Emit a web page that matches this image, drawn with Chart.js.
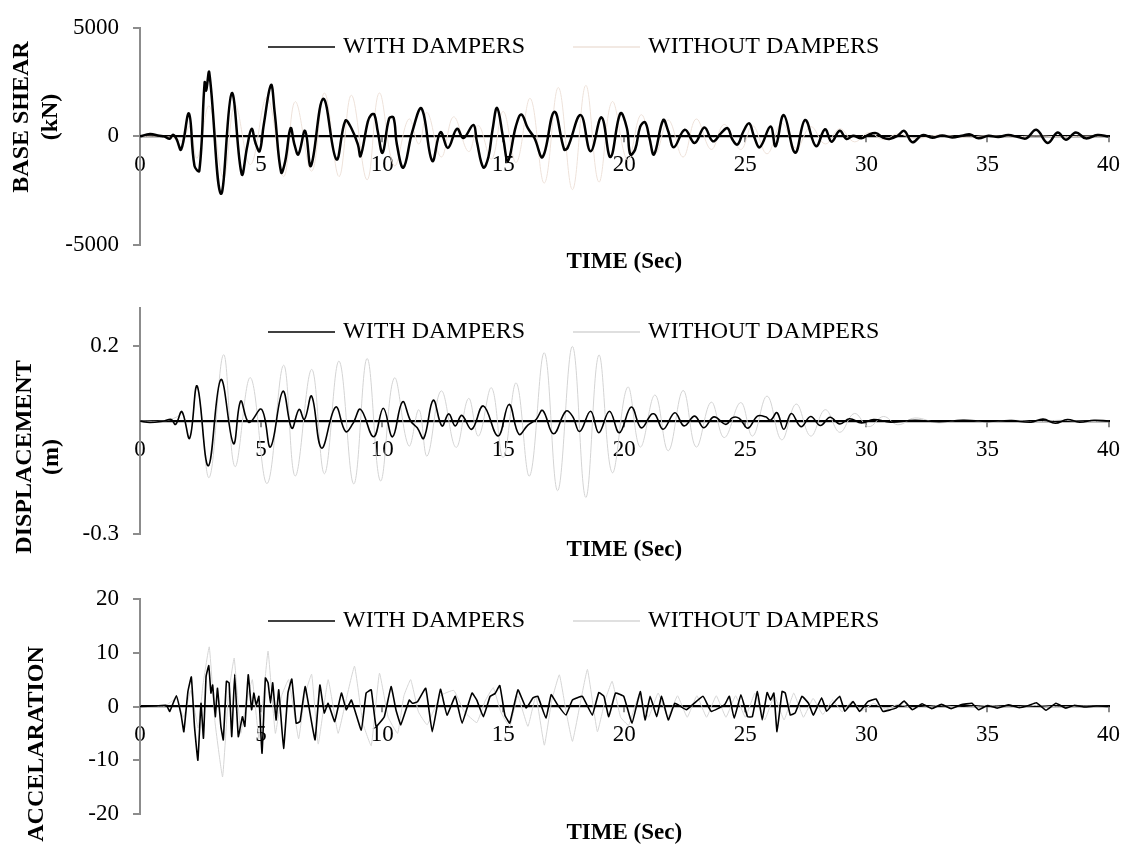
<!DOCTYPE html>
<html><head><meta charset="utf-8">
<script src="https://cdn.jsdelivr.net/npm/chart.js@4.4.1/dist/chart.umd.min.js"></script>
<style>
html,body{margin:0;padding:0;background:#fff;width:1130px;height:845px;overflow:hidden}
.p{position:absolute;left:0;width:1130px}
canvas{display:block}
</style></head><body>
<div class="p" style="top:0;height:280px"><canvas id="c1" width="1130" height="280"></canvas></div>
<div class="p" style="top:280px;height:285px"><canvas id="c2" width="1130" height="285"></canvas></div>
<div class="p" style="top:565px;height:280px"><canvas id="c3" width="1130" height="280"></canvas></div>
<script>
// ---------- data ----------
const legendLabels = ['WITH DAMPERS', 'WITHOUT DAMPERS'];
const timeTitle = 'TIME (Sec)';
const timeTicks = [0, 5, 10, 15, 20, 25, 30, 35, 40];
const shearTicks = [-5000, 0, 5000];
const dispTicks = [-0.3, 0.2];
const accTicks = [-20, -10, 0, 10, 20];
const shearTitle = ['BASE SHEAR', '(kN)'];
const dispTitle = ['DISPLACEMENT', '(m)'];
const accTitle = ['ACCELARATION'];

const shearWithT = [0,0.41,0.8,1.0,1.23,1.36,1.5,1.70,2.02,2.25,
 2.45,2.67,2.73,2.86,3.34,3.79,4.20,4.43,4.61,4.77,
 4.94,5.11,5.41,5.56,5.83,6.0,6.22,6.38,6.54,6.82,
 7.06,7.57,8.11,8.48,8.73,9.0,9.11,9.41,9.54,9.68,
 9.82,10.02,10.29,10.47,10.61,10.88,11.25,11.63,12.07,12.41,
 12.72,13.09,13.36,13.77,13.91,14.18,14.39,14.56,14.75,15.0,
 15.2,15.52,15.75,16.02,16.29,16.63,17.11,17.52,17.66,18.2,
 18.61,19.06,19.43,19.84,20.11,20.25,20.45,20.66,20.86,21.04,
 21.23,21.61,21.82,22.05,22.5,22.91,23.31,23.66,24.0,24.27,
 24.47,24.68,24.92,25.16,25.36,25.6,26.04,26.25,26.59,27.06,
 27.47,27.92,28.29,28.56,28.9,29.18,29.45,29.79,30.06,30.4,
 30.68,30.95,31.29,31.56,31.9,32.31,32.72,33.13,33.54,33.95,
 34.29,34.63,35.04,35.45,35.86,36.27,36.61,37.02,37.49,37.9,
 38.24,38.65,39.06,39.54,40];
const shearWith = [0,106,30,0,-106,75,-100,-603,1056,-1357,
 -1583,2488,2111,2941,-2639,1991,-1734,-452,347,-302,
 -679,528,2368,1131,-1659,-1131,377,-377,-829,256,
 -1357,1734,-1056,724,377,-377,-905,679,980,1010,
 226,-754,829,860,-377,-1433,226,1282,-1131,196,
 -528,350,-75,528,-226,-1433,-950,302,1312,-75,
 -1131,452,1010,377,-75,-950,1131,-603,-528,980,
 -679,875,-950,1056,377,-829,-603,452,648,-75,
 -829,754,226,-498,302,-302,407,-226,151,377,
 -151,-377,226,603,0,-498,452,-452,980,-754,
 754,-453,332,-241,256,-121,30,-90,60,151,
 -60,-121,30,256,-271,60,-60,45,-45,30,
 90,-90,30,-30,60,-30,-90,302,-302,181,
 -151,181,-90,60,0];

const shearWithoutT = [0,1.0,1.5,1.75,2.05,2.36,2.86,3.45,3.92,4.56,
 5.25,5.93,6.41,7.09,7.62,8.22,8.73,9.38,9.88,10.5,
 11.1,11.52,11.86,12.44,12.95,13.57,13.98,14.52,15.0,15.54,
 16.12,16.7,17.28,17.86,18.41,18.95,19.5,20.14,20.7,21.27,
 21.82,22.43,22.97,23.59,24.13,24.81,25.3,25.9,26.5,27.1,
 27.7,28.3,28.9,29.5,30.1,30.7,31.3,32,33,34,
 35,36,37,38,39,40];
const shearWithout = [0,0,-100,-200,450,-1000,1400,-1900,1450,-1300,
 1800,-1850,1600,-1600,2000,-1850,1900,-2000,2000,-1350,
 800,-350,1100,-950,900,-700,500,-1050,1150,-1200,
 1750,-2150,2250,-2450,2350,-2100,1600,-1100,1000,-800,
 750,-950,800,-600,550,-600,500,-800,600,-550,
 450,-350,350,-250,180,-150,120,-100,60,-40,
 30,-20,20,-15,10,0];

const dispWithT = [0,0.41,1.0,1.29,1.47,1.73,2.05,2.36,2.82,3.34,
 3.86,4.16,4.5,5.02,5.39,5.9,6.27,6.57,6.79,7.09,
 7.5,8.08,8.49,8.79,9.11,9.65,10.05,10.43,10.84,11.18,
 11.45,11.72,12.11,12.47,12.75,13.02,13.29,13.7,14.18,14.79,
 15.24,15.65,16.02,16.36,16.63,17.08,17.59,17.86,18.16,18.61,
 18.95,19.39,19.8,20.29,20.7,21.13,21.29,21.61,22.09,22.47,
 22.91,23.29,23.7,24.2,24.47,24.75,25.11,25.5,25.84,26.04,
 26.31,26.59,26.9,27.3,27.7,28.1,28.5,28.9,29.3,29.8,
 30.3,31,32,33,34,35,36,36.8,37.3,37.8,
 38.3,38.8,39.4,40];
const dispWith = [0,-0.004,0,0.004,-0.009,0.025,-0.046,0.093,-0.119,0.110,
 -0.060,0.053,-0.004,0.031,-0.069,0.079,-0.019,0.031,0.004,0.066,
 -0.072,0.037,-0.028,-0.007,0.031,-0.042,0.034,-0.042,0.051,0,
 -0.018,-0.046,0.055,-0.013,0.019,-0.013,0.015,-0.022,0.040,-0.040,
 0.044,-0.035,-0.011,0.004,0.028,-0.034,0.026,0.013,-0.028,0.026,
 -0.031,0.026,-0.031,0.037,-0.018,0.018,0.016,-0.022,0.022,-0.013,
 0.013,-0.018,0.011,-0.009,0.009,0.007,-0.019,0.013,0.011,0.002,
 0.022,-0.022,0.02,-0.015,0.012,-0.012,0.01,-0.008,0.006,-0.005,
 0.004,-0.003,0.002,-0.002,0.002,-0.001,0.001,-0.003,0.005,-0.006,
 0.004,-0.003,0.002,0];

const dispWithoutT = [0,1.0,1.5,1.75,2.05,2.36,2.86,3.45,3.92,4.56,
 5.25,5.93,6.41,7.09,7.62,8.22,8.83,9.38,9.93,10.5,
 11.1,11.52,11.86,12.44,13.05,13.57,13.98,14.52,15.0,15.54,
 16.09,16.7,17.25,17.86,18.41,18.95,19.5,20.14,20.66,21.27,
 21.82,22.43,22.97,23.59,24.13,24.81,25.3,25.9,26.5,27.1,
 27.7,28.3,28.9,29.5,30.1,30.7,31.3,32,33,34,
 35,36,37,38,39,40];
const dispWithout = [0,0,0.01,0.02,-0.04,0.09,-0.150,0.176,-0.121,0.115,
 -0.166,0.148,-0.146,0.137,-0.14,0.159,-0.167,0.166,-0.159,0.114,
 -0.066,0.03,-0.093,0.080,-0.07,0.06,-0.040,0.088,-0.097,0.101,
 -0.146,0.181,-0.185,0.198,-0.203,0.175,-0.137,0.090,-0.069,0.069,
 -0.079,0.081,-0.069,0.050,-0.044,0.049,-0.040,0.066,-0.05,0.045,
 -0.04,0.03,-0.03,0.02,-0.015,0.012,-0.01,0.008,-0.005,0.004,
 -0.003,0.002,-0.002,0.002,-0.001,0];

const accWithT = [0,0.68,1.09,1.23,1.5,1.7,1.81,1.98,2.12,2.25,
 2.39,2.52,2.62,2.73,2.84,2.93,3.0,3.11,3.2,3.34,
 3.44,3.57,3.68,3.79,3.91,4.06,4.23,4.33,4.47,4.61,
 4.7,4.8,4.91,5.04,5.18,5.29,5.39,5.48,5.62,5.73,
 5.93,6.11,6.27,6.45,6.61,6.82,7.02,7.23,7.43,7.61,
 7.77,8.04,8.32,8.52,8.73,9.14,9.34,9.55,9.75,10.09,
 10.37,10.57,10.77,11.12,11.25,11.46,11.8,12.07,12.41,12.68,
 13.02,13.3,13.71,13.91,14.18,14.46,14.66,14.86,15.07,15.27,
 15.61,15.95,16.23,16.43,16.77,16.98,17.25,17.59,17.86,18.27,
 18.68,18.95,19.16,19.36,19.64,19.98,20.32,20.66,20.86,21.07,
 21.34,21.54,21.82,22.09,22.57,23.25,23.59,24.14,24.34,24.54,
 24.82,25.09,25.29,25.5,25.7,25.9,26.04,26.18,26.31,26.52,
 26.65,26.86,27.06,27.34,27.61,27.81,28.15,28.36,28.63,28.9,
 29.11,29.45,29.72,30.06,30.4,30.68,31.22,31.56,31.9,32.3,
 32.7,33.1,33.5,33.9,34.36,34.63,35.0,35.4,35.86,36.3,
 36.7,37.02,37.42,37.83,38.24,38.58,39.0,39.5,40];
const accWith = [0,0.1,0.2,-0.9,2.0,-1.6,-4.7,2.8,5.5,-3.7,
 -10.0,0.6,-5.9,5.6,7.6,2.5,4.0,-1.9,3.4,-3.7,
 -6.2,4.7,4.4,-5.6,6.0,-5.6,-1.9,-3.7,5.9,-0.6,
 2.5,0.3,1.9,-8.7,5.3,4.4,0.6,4.4,-2.5,3.1,
 -7.8,2.5,5.1,-3.1,-2.8,3.7,-1.2,-6.2,4.0,-1.2,
 0.6,-2.8,2.5,-0.6,1.2,-4.4,2.5,3.1,-3.7,-1.9,
 3.7,-0.6,-3.4,1.2,0.6,0.9,3.4,-4.7,3.2,-1.6,
 1.9,-3.1,2.5,1.2,-1.9,1.9,2.4,3.9,-1.6,-3.1,
 3.1,-0.3,1.6,1.9,-2.2,2.2,0.3,-1.6,1.2,1.9,
 -1.6,2.6,1.9,-1.9,2.5,1.9,-3.1,2.8,-2.5,1.9,
 -1.9,1.9,-2.5,0.6,-0.6,1.9,-0.9,0.3,1.9,-2.2,
 2.2,-1.9,-1.9,2.8,-2.5,2.6,1.2,2.5,-4.7,2.8,
 2.5,-1.6,-1.2,1.9,0.6,-1.6,1.6,-0.9,0.6,1.9,
 -0.9,0.9,-0.9,0.9,1.4,-0.9,-0.3,1.0,-0.6,0.5,
 -0.4,0.4,-0.4,0.3,0.6,-0.6,0.2,-0.3,0.3,-0.2,
 0.2,0.7,-0.7,0.6,-0.3,0.2,-0.1,0.1,0];

const accWithoutT = [0,1.0,1.5,1.8,2.1,2.4,2.6,2.86,3.1,3.41,
 3.65,3.89,4.16,4.4,4.64,4.91,5.1,5.29,5.59,5.85,
 6.14,6.55,6.8,7.09,7.36,7.77,8.18,8.5,8.86,9.2,
 9.55,9.89,10.25,10.64,10.9,11.18,11.5,11.86,12.4,12.96,
 13.4,13.91,14.25,14.59,14.9,15.27,15.6,16.02,16.35,16.7,
 17.0,17.32,17.6,17.86,18.2,18.48,18.89,19.2,19.5,19.85,
 20.18,20.6,21.0,21.4,21.8,22.2,22.6,23.0,23.4,23.8,
 24.2,24.6,25.0,25.4,25.8,26.2,26.6,27.0,27.4,27.8,
 28.2,28.6,29.0,29.4,29.8,30.3,30.8,31.3,32,33,
 34,35,36,37,38,39,40];
const accWithout = [0,0,1.5,-2,3,-4,4,11.1,-3,-13.1,
 2,9.0,-5,1,5,-6,2,10.3,-5,2,
 5,-6,2,6,-7,5,-5,1,7.5,-3,
 -7.3,6.2,-2,-5,2,5,-1,-3.4,2,3,
 -1,-3,1,3.5,-1,-3.8,2,-3.7,2,-7.2,
 1,5.9,-1,-6.5,1,6.9,-4.7,1,4.7,-2,
 -3.5,2,-2,2.5,-2,2,-2,2,-2,2,
 -2,2,-2,2.5,-2.5,2,-2.5,2.5,-2,1.5,
 -1.5,1.2,-1,1,-0.8,0.6,-0.5,0.4,-0.3,0.2,
 -0.2,0.2,-0.1,0.2,-0.1,0.1,0];

// ---------- drawing ----------
const FF = '"Liberation Serif", "Times New Roman", serif';
const zip = (t, v) => t.map((x, i) => ({x: x, y: v[i]}));

const decoPlugin = {
  id: 'deco',
  afterDraw(chart, args, o) {
    const ctx = chart.ctx;
    const ca = chart.chartArea;
    ctx.save();
    ctx.font = '24px ' + FF;
    ctx.fillStyle = '#000';
    ctx.textBaseline = 'middle';
    ctx.textAlign = 'left';
    chart.data.datasets.forEach((ds, i) => {
      const lx = o.legendX[i];
      ctx.strokeStyle = ds.borderColor;
      ctx.lineWidth = 1.5;
      ctx.beginPath();
      ctx.moveTo(lx, o.legendY);
      ctx.lineTo(lx + 67, o.legendY);
      ctx.stroke();
      ctx.fillText(ds.label, lx + 75, o.legendY);
    });
    ctx.font = 'bold 23px ' + FF;
    ctx.textAlign = 'center';
    ctx.fillText(o.xTitle, (ca.left + ca.right) / 2, o.xTitleY);
    ctx.font = 'bold 24px ' + FF;
    o.yTitle.forEach((line, i) => {
      ctx.save();
      ctx.translate(o.yTitleX[i], o.yTitleY);
      ctx.rotate(-Math.PI / 2);
      ctx.fillText(line, 0, 0);
      ctx.restore();
    });
    ctx.restore();
  }
};

function build(id, p) {
  return new Chart(document.getElementById(id), {
    type: 'line',
    data: {
      datasets: [
        {label: legendLabels[0], data: zip(p.wT, p.wV), borderColor: '#000000', borderWidth: p.bw,
         pointRadius: 0, tension: p.tension, fill: false},
        {label: legendLabels[1], data: zip(p.nT, p.nV), borderColor: p.grey, borderWidth: 1,
         pointRadius: 0, tension: p.tension, fill: false}
      ]
    },
    options: {
      responsive: false,
      animation: false,
      events: [],
      layout: {padding: {left: 0, right: 12, top: p.top, bottom: p.bottom}},
      plugins: {legend: {display: false}, tooltip: {enabled: false}, deco: p.deco},
      scales: {
        x: {
          type: 'linear', position: {y: 0}, min: 0, max: 40, z: 1,
          afterBuildTicks: s => { s.ticks = timeTicks.map(v => ({value: v})); },
          grid: {drawOnChartArea: false, drawTicks: true, tickLength: 5, color: '#8c8c8c', lineWidth: 2},
          border: {display: true, color: '#000000', width: 2.2},
          ticks: {font: {family: FF, size: 23}, color: '#000', padding: 10, maxRotation: 0, autoSkip: false,
                  callback: v => String(v)}
        },
        y: {
          type: 'linear', min: p.min, max: p.max,
          afterBuildTicks: s => { s.ticks = p.ticks.map(v => ({value: v})); },
          afterFit: s => { s.width = 140; },
          grid: {drawOnChartArea: false, drawTicks: true, tickLength: 7, color: '#8c8c8c', lineWidth: 2},
          border: {display: true, color: '#8c8c8c', width: 2},
          ticks: {font: {family: FF, size: 23}, color: '#000', padding: 14, autoSkip: false,
                  callback: v => String(v)}
        }
      }
    },
    plugins: [decoPlugin]
  });
}

build('c1', {wT: shearWithT, wV: shearWith, nT: shearWithoutT, nV: shearWithout,
  bw: 2.5, grey: '#eee2da', tension: 0.4, min: -5000, max: 5000, ticks: shearTicks, top: 24, bottom: 35,
  deco: {legendX: [268, 573], legendY: 47, xTitle: timeTitle, xTitleY: 262,
         yTitle: shearTitle, yTitleX: [22, 51], yTitleY: 117}});
build('c2', {wT: dispWithT, wV: dispWith, nT: dispWithoutT, nV: dispWithout,
  bw: 1.6, grey: '#d4d4d4', tension: 0.4, min: -0.3, max: 0.3, ticks: dispTicks, top: 28, bottom: 31,
  deco: {legendX: [268, 573], legendY: 52, xTitle: timeTitle, xTitleY: 270,
         yTitle: dispTitle, yTitleX: [25, 52], yTitleY: 177}});
build('c3', {wT: accWithT, wV: accWith, nT: accWithoutT, nV: accWithout,
  bw: 1.6, grey: '#d6d6d6', tension: 0.1, min: -20, max: 20, ticks: accTicks, top: 34, bottom: 31,
  deco: {legendX: [268, 573], legendY: 56, xTitle: timeTitle, xTitleY: 268,
         yTitle: accTitle, yTitleX: [37], yTitleY: 179}});
</script>
</body></html>
